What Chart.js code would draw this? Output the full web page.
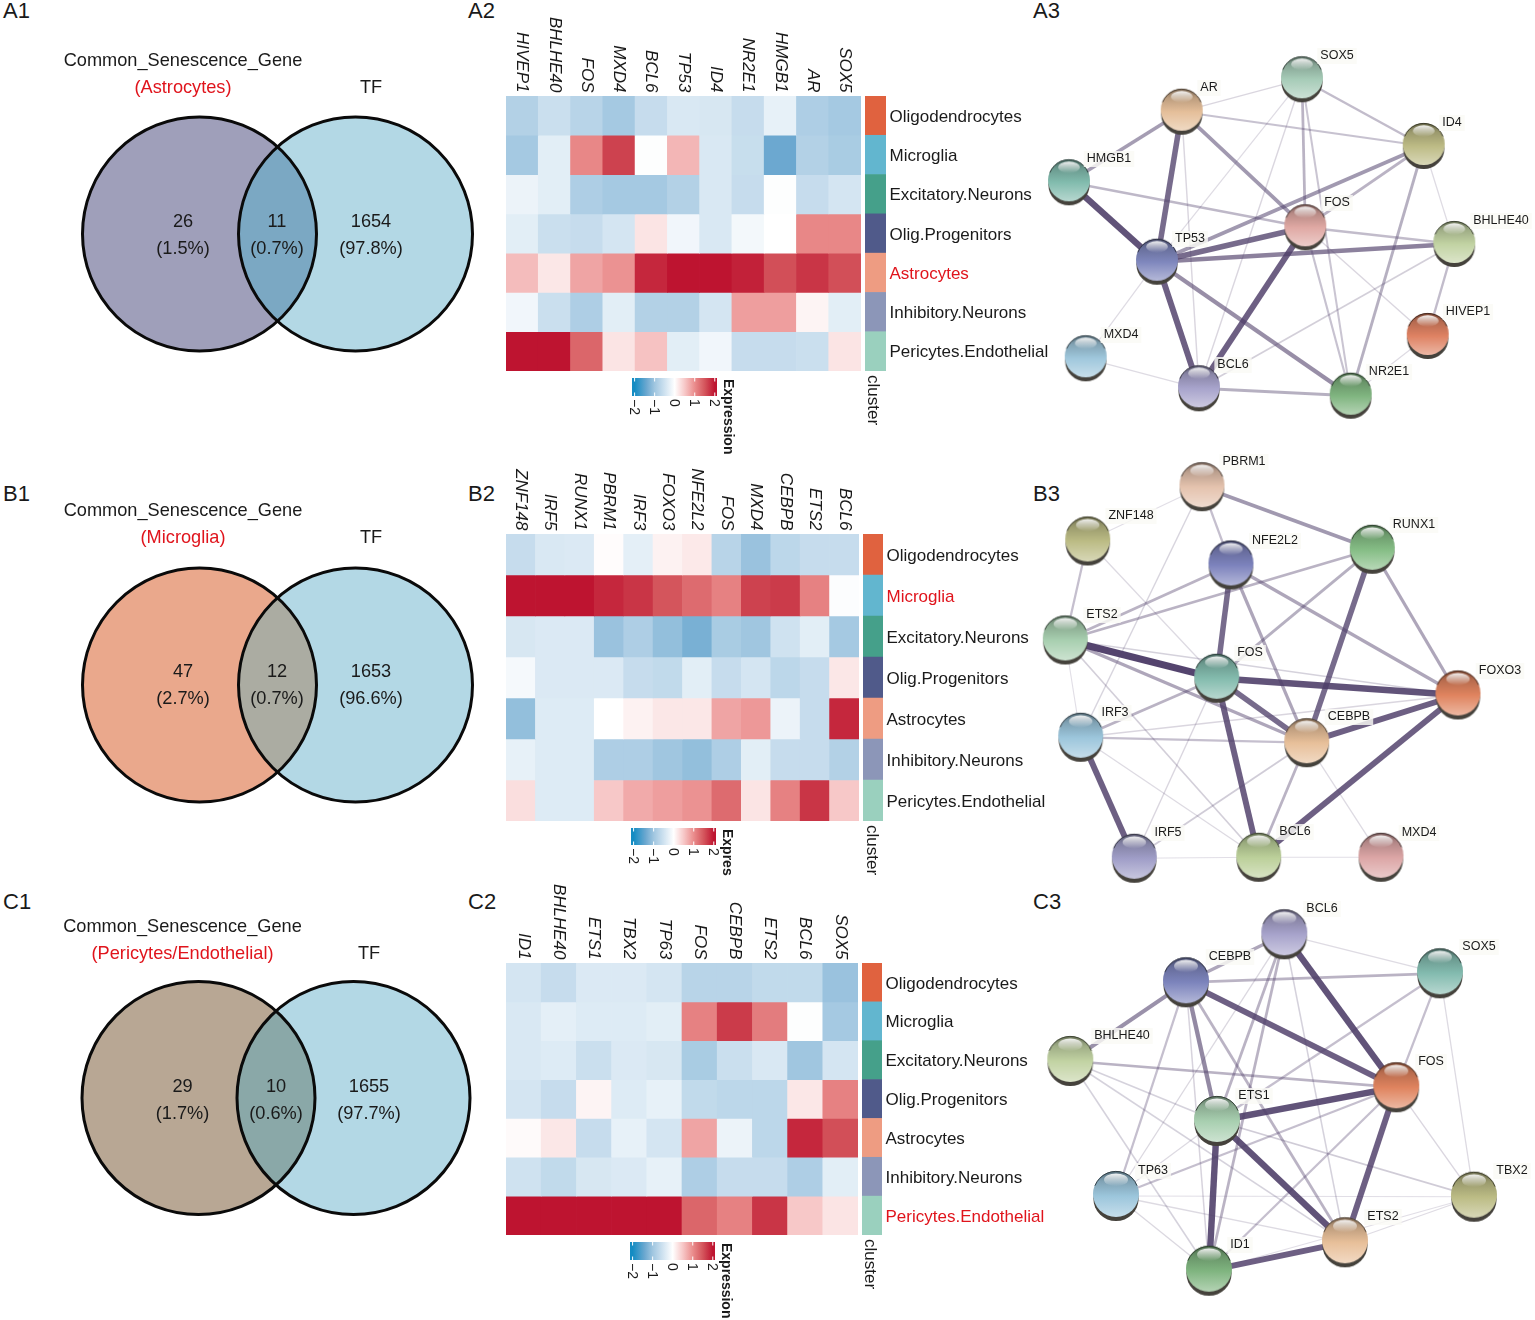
<!DOCTYPE html>
<html><head><meta charset="utf-8">
<style>html,body{margin:0;padding:0;background:#fff}body{position:relative;width:1535px;height:1320px;overflow:hidden}
canvas{position:absolute;display:block}
.pl{position:absolute;font:22px "Liberation Sans",Arial,sans-serif;color:#1a1a1a;line-height:22px}</style>
<script src="https://cdn.jsdelivr.net/npm/chart.js@4/dist/chart.umd.js"></script>
</head><body>
<script>
// ---------- DATA ----------
const rows = ["Oligodendrocytes","Microglia","Excitatory.Neurons","Olig.Progenitors","Astrocytes","Inhibitory.Neurons","Pericytes.Endothelial"];

const genesA = ["HIVEP1","BHLHE40","FOS","MXD4","BCL6","TP53","ID4","NR2E1","HMGB1","AR","SOX5"];
const exprA = [
 [-.8,-.55,-.75,-.95,-.6,-.4,-.42,-.6,-.25,-.85,-.95],
 [-.95,-.3,1.05,1.65,-.02,.65,-.4,-.58,-1.4,-.8,-.9],
 [-.2,-.3,-.85,-.95,-.95,-.8,-.4,-.6,-.02,-.6,-.45],
 [-.3,-.55,-.6,-.45,.25,-.15,-.4,-.12,0,1.05,1.05],
 [.6,.22,.8,.95,1.85,2,2,1.9,1.55,1.75,1.55],
 [-.15,-.55,-.85,-.3,-.8,-.8,-.45,.85,.85,.1,-.3],
 [2,2,1.35,.25,.55,-.3,-.15,-.6,-.6,-.55,.25]];

const genesB = ["ZNF148","IRF5","RUNX1","PBRM1","IRF3","FOXO3","NFE2L2","FOS","MXD4","CEBPB","ETS2","BCL6"];
const exprB = [
 [-.6,-.4,-.38,.03,-.28,.12,.2,-.75,-1.05,-.7,-.6,-.6],
 [2,2,2,1.85,1.75,1.5,1.3,1.1,1.65,1.7,1.1,-.03],
 [-.42,-.38,-.38,-1.05,-.85,-1.1,-1.3,-.9,-1,-.5,-.3,-.95],
 [-.1,-.38,-.38,-.38,-.6,-.65,-.3,-.6,-.45,-.7,-.6,.22],
 [-1.1,-.35,-.35,0,.12,.22,.22,.8,.9,-.2,-.6,1.85],
 [-.25,-.35,-.35,-.85,-.85,-1,-1.1,-.85,-.3,-.6,-.6,-.8],
 [.3,-.35,-.35,.5,.75,.85,.95,1.3,.25,1.1,1.75,.5]];

const genesC = ["ID1","BHLHE40","ETS1","TBX2","TP63","FOS","CEBPB","ETS2","BCL6","SOX5"];
const exprC = [
 [-.45,-.6,-.38,-.38,-.45,-.75,-.75,-.65,-.65,-1.05],
 [-.4,-.28,-.35,-.35,-.3,1.1,1.7,1.15,-.02,-.95],
 [-.4,-.35,-.55,-.38,-.42,-.9,-.55,-.4,-1,-.45],
 [-.45,-.6,.1,-.35,-.25,-.65,-.7,-.7,.22,1.1],
 [.05,.22,-.6,-.25,-.45,.8,-.2,-.7,1.85,1.55],
 [-.5,-.65,-.42,-.38,-.25,-.85,-.6,-.6,-.85,-.3],
 [2,2,2,2,2,1.35,1.1,1.75,.5,.25]];

const legendTicks = [-2,-1,0,1,2];

const vennSetNames = ["Common_Senescence_Gene","TF"];
const vennCountsA = [26,11,1654], vennPctA = ["1.5%","0.7%","97.8%"];
const vennCountsB = [47,12,1653], vennPctB = ["2.7%","0.7%","96.6%"];
const vennCountsC = [29,10,1655], vennPctC = ["1.7%","0.6%","97.7%"];

// network layouts and edge scores
const netNamesA = ["SOX5","AR","ID4","HMGB1","FOS","BHLHE40","TP53","HIVEP1","MXD4","BCL6","NR2E1"];
const netXA = [1302,1181.7,1423.7,1069,1305.3,1454.3,1157,1427.7,1085.7,1199,1350.7];
const netYA = [79.3,111.7,146,182.3,227.3,244,261.7,336,358.3,388.3,395.7];
const edgesA = [["HMGB1","TP53",.9],["AR","TP53",.75],["TP53","BCL6",.82],["TP53","FOS",.75],["FOS","BCL6",.82],
 ["TP53","BHLHE40",.6],["TP53","ID4",.45],["TP53","NR2E1",.52],["AR","FOS",.45],["AR","HMGB1",.42],["HMGB1","FOS",.25],
 ["SOX5","AR",.05],["SOX5","ID4",.22],["SOX5","FOS",.28],["SOX5","NR2E1",.16],["SOX5","TP53",.02],["SOX5","BCL6",.05],
 ["AR","ID4",.18],["AR","BCL6",.05],["ID4","FOS",.28],["ID4","NR2E1",.3],["ID4","BHLHE40",.02],["FOS","BHLHE40",.22],
 ["FOS","HIVEP1",.05],["BHLHE40","HIVEP1",.22],["BHLHE40","BCL6",.1],["FOS","NR2E1",.18],["TP53","MXD4",.02],
 ["MXD4","BCL6",.02],["BCL6","NR2E1",.3],["HIVEP1","NR2E1",.02]];

const netNamesB = ["PBRM1","ZNF148","NFE2L2","RUNX1","ETS2","FOS","FOXO3","IRF3","CEBPB","IRF5","BCL6","MXD4"];
const netXB = [1202,1087.7,1231,1372.3,1065.3,1216.7,1458,1080.7,1306.7,1134.3,1258.7,1381];
const netYB = [486.7,541,565,549.3,640,678.3,695,737.3,742.7,858.3,857.3,857.3];
const edgesB = [["ETS2","FOS",1],["FOS","FOXO3",.9],["FOS","CEBPB",.75],["FOS","BCL6",.82],["CEBPB","FOXO3",.82],["FOXO3","BCL6",.82],
 ["NFE2L2","FOS",.75],["RUNX1","CEBPB",.75],["IRF3","IRF5",.82],["PBRM1","RUNX1",.45],["NFE2L2","CEBPB",.36],["NFE2L2","FOXO3",.36],
 ["NFE2L2","ETS2",.28],["RUNX1","ETS2",.28],["RUNX1","FOS",.3],["RUNX1","FOXO3",.36],["ETS2","CEBPB",.36],["FOS","IRF3",.28],
 ["ZNF148","ETS2",.2],["PBRM1","NFE2L2",.2],["CEBPB","BCL6",.28],["IRF3","CEBPB",.2],["PBRM1","ZNF148",.0],["PBRM1","IRF3",.06],
 ["ZNF148","FOS",.03],["ETS2","IRF3",.0],["ETS2","FOXO3",.08],["ETS2","BCL6",.1],["IRF3","FOXO3",.05],["IRF3","BCL6",.03],
 ["FOS","IRF5",.05],["IRF5","BCL6",.0],["BCL6","MXD4",.0],["CEBPB","MXD4",.03],["CEBPB","IRF5",.12]];

const netNamesC = ["BCL6","SOX5","CEBPB","BHLHE40","FOS","ETS1","TP63","TBX2","ETS2","ID1"];
const netXC = [1284.3,1440,1186,1070.3,1396.3,1217,1116,1474,1345,1209];
const netYC = [934.3,973.3,982.3,1061,1087.3,1121,1196,1196.7,1242.3,1270.7];
const edgesC = [["BCL6","FOS",.9],["CEBPB","FOS",.82],["ETS1","FOS",.9],["FOS","ETS2",.82],["ETS1","ETS2",.9],["ETS1","ID1",.9],["ID1","ETS2",.82],
 ["CEBPB","ETS1",.55],["CEBPB","BCL6",.36],["CEBPB","BHLHE40",.5],["CEBPB","SOX5",.28],["BHLHE40","FOS",.28],["SOX5","ETS1",.2],["SOX5","FOS",.2],
 ["BCL6","ETS1",.28],["BCL6","ID1",.28],["CEBPB","ETS2",.28],["FOS","TP63",.2],["FOS","ID1",.2],["CEBPB","TP63",.2],["ETS1","TBX2",.12],
 ["BCL6","SOX5",.02],["BCL6","ETS2",.08],["BCL6","TP63",.04],["SOX5","TBX2",.03],["FOS","TBX2",.05],["BHLHE40","ETS1",.08],["BHLHE40","ETS2",.08],
 ["BHLHE40","ID1",.08],["CEBPB","ID1",.07],["TP63","ETS1",.03],["TP63","ID1",.04],["TP63","TBX2",.0],["TP63","ETS2",.03],["TBX2","ETS2",.02],["TBX2","ID1",.0]];

// ---------- STYLE & LAYOUT ----------
const FF = '"Liberation Sans",Arial,sans-serif', INK = "#1a1a1a", RED = "#e0141c";
const stripColors = ["#e0623f","#62b6cf","#45a08a","#505a8a","#ee9c82","#8c96b8","#9ad0be"];
const stops = [[-2,[20,140,195]],[-1.4,[108,168,208]],[-1,[160,198,224]],[-.5,[207,226,240]],[0,[255,255,255]],[.5,[247,200,200]],[1,[234,140,140]],[1.5,[212,85,92]],[2,[190,20,48]]];
function colorFor(z){
  z=Math.max(-2,Math.min(2,z));
  for(let i=1;i<stops.length;i++) if(z<=stops[i][0]){
    const [a,ca]=stops[i-1],[b,cb]=stops[i],t=(z-a)/(b-a);
    return `rgb(${ca.map((v,k)=>Math.round(v+(cb[k]-v)*t)).join(",")})`;
  }
}
function mk(left,top,w,h,config){
  const c=document.createElement("canvas");
  c.width=w;c.height=h;c.style.left=left+"px";c.style.top=top+"px";c.style.width=w+"px";c.style.height=h+"px";
  document.body.appendChild(c);
  config.options=Object.assign({responsive:false,animation:false,devicePixelRatio:1,events:[]},config.options);
  config.options.layout=Object.assign({autoPadding:false,padding:0},config.options.layout);
  config.options.plugins=Object.assign({legend:{display:false},tooltip:{enabled:false}},config.options.plugins);
  return new Chart(c,config);
}
[["A1",3,0],["A2",468,0],["A3",1033,0],["B1",3,483],["B2",468,483],["B3",1033,483],["C1",3,891],["C2",468,891],["C3",1033,891]].forEach(([t,x,y])=>{
  const d=document.createElement("div");d.className="pl";d.textContent=t;d.style.left=x+"px";d.style.top=y+"px";document.body.appendChild(d);
});

// ---------- VENN ----------
function venn(o){
  const X0=0,Y0=o.cy-195,W=468+10,H=330,R=o.r;
  const pts=[{x:o.lx,y:o.cy},{x:o.rx,y:o.cy}];
  mk(X0,Y0,W,H,{type:"bubble",
    data:{datasets:[
      {data:[{x:pts[0].x,y:pts[0].y,r:R}],backgroundColor:o.lc,borderWidth:0},
      {data:[{x:pts[1].x,y:pts[1].y,r:R}],backgroundColor:o.rc,borderWidth:0}]},
    options:{scales:{
      x:{type:"linear",display:false,min:X0,max:X0+W},
      y:{type:"linear",display:false,min:Y0,max:Y0+H,reverse:true}},
      clip:false},
    plugins:[{id:"vennOverlay",afterDatasetsDraw(ch){
      const c=ch.ctx,sx=ch.scales.x,sy=ch.scales.y;
      const p=pts.map(q=>[sx.getPixelForValue(q.x),sy.getPixelForValue(q.y)]);
      c.save();
      c.save();c.beginPath();c.arc(p[0][0],p[0][1],R,0,7);c.clip();
      c.beginPath();c.arc(p[1][0],p[1][1],R,0,7);c.fillStyle=o.ic;c.fill();c.restore();
      c.lineWidth=3;c.strokeStyle="#0a0a0a";
      p.forEach(q=>{c.beginPath();c.arc(q[0],q[1],R,0,7);c.stroke();});
      c.fillStyle=INK;c.font="18.2px "+FF;c.textAlign="center";c.textBaseline="middle";
      const T=(s,x,y,col)=>{c.fillStyle=col||INK;c.fillText(s,sx.getPixelForValue(x),sy.getPixelForValue(y));};
      T(vennSetNames[0],o.tx[0],o.titleY);
      T("("+o.name+")",o.tx[0],o.titleY+27,RED);
      T(vennSetNames[1],o.tx[2],o.titleY+27);
      o.counts.forEach((n,i)=>{T(String(n),o.tx[i],o.numY);T("("+o.pct[i]+")",o.tx[i],o.numY+27);});
      c.restore();
    }}]});
}
venn({lx:199.5,rx:355.5,cy:233.5,r:117,lc:"#9f9fba",rc:"#b3d8e5",ic:"#7ba8c3",tx:[183,277,371],titleY:60.5,numY:221,name:"Astrocytes",counts:vennCountsA,pct:vennPctA});
venn({lx:199.5,rx:355.5,cy:684.5,r:117,lc:"#eaa88c",rc:"#b3d8e5",ic:"#abaca2",tx:[183,277,371],titleY:510.5,numY:671.5,name:"Microglia",counts:vennCountsB,pct:vennPctB});
venn({lx:198.5,rx:353.5,cy:1098,r:116.5,lc:"#b8a794",rc:"#b3d8e5",ic:"#8aa8a8",tx:[182.5,276,369],titleY:926.5,numY:1086.5,name:"Pericytes/Endothelial",counts:vennCountsC,pct:vennPctC});

// ---------- HEATMAP ----------
function heat(o){
  const pad=95, W=o.right-o.left, H=o.bottom-o.top;
  mk(o.left,o.top-pad,W,H+pad,{type:"bar",
    data:{labels:o.genes,datasets:o.expr.map((row,r)=>({
      label:rows[r],data:row.map(()=>[r,r+1]),backgroundColor:row.map(colorFor),borderWidth:0}))},
    options:{layout:{padding:{top:pad}},datasets:{bar:{grouped:false,barPercentage:1,categoryPercentage:1}},
      scales:{x:{display:false,offset:true},y:{display:false,min:0,max:7,reverse:true}}},
    plugins:[{id:"geneLabels",afterDraw(ch){
      const c=ch.ctx,sx=ch.scales.x;
      c.save();c.font="italic 17px "+FF;c.fillStyle=INK;c.textAlign="right";c.textBaseline="middle";
      o.genes.forEach((g,i)=>{c.save();c.translate(sx.getPixelForValue(i),ch.chartArea.top-3.5);c.rotate(Math.PI/2);c.fillText(g,0,0);c.restore();});
      c.restore();
    }}]});
  // cluster strip with the row names as its y axis
  const sW=o.stripR-o.stripL, cW=1062-o.stripL, extra=64;
  mk(o.stripL,o.top,cW,H+extra,{type:"bar",
    data:{labels:rows,datasets:[{data:rows.map(()=>[0,1]),backgroundColor:stripColors,borderWidth:0}]},
    options:{indexAxis:"y",layout:{padding:{bottom:extra}},datasets:{bar:{barPercentage:1,categoryPercentage:1}},
      scales:{x:{display:false,min:0,max:1},
        y:{position:"right",grid:{display:false,drawTicks:false},border:{display:false},
           afterFit(s){s.width=cW-sW;s.paddingTop=0;s.paddingBottom=0;},
           ticks:{padding:3.5,labelOffset:1.4,autoSkip:false,font:{family:FF,size:17},color:c=>c.index===o.hi?RED:INK}}}},
    plugins:[{id:"clusterLabel",afterDraw(ch){
      const c=ch.ctx;c.save();c.font="17px "+FF;c.fillStyle=INK;c.textAlign="left";c.textBaseline="middle";
      c.translate(o.clusterX-o.stripL,o.clusterY-o.top);c.rotate(Math.PI/2);c.fillText("cluster",0,0);c.restore();
    }}]});
  // colour legend
  const cb=o.cb,pL=4,pT=4,bw=cb.r-cb.l,bh=cb.b-cb.t,lW=bw+pL+24,lH=bh+pT+85;
  mk(cb.l-pL,cb.t-pT,lW,lH,{type:"bar",
    data:{labels:["Expression"],datasets:[{data:[[-2.13,2.11]],borderWidth:0,
      backgroundColor(ctx){
        const ch=ctx.chart,s=ch.scales.x;if(!ch.chartArea)return "#fff";
        const g=ch.ctx.createLinearGradient(s.getPixelForValue(-2.13),0,s.getPixelForValue(2.11),0);
        for(const [z] of stops){g.addColorStop(Math.min(1,(z+2.13)/4.24),colorFor(z));}
        return g;
      }}]},
    options:{indexAxis:"y",layout:{padding:{left:pL,top:pT,right:lW-pL-bw,bottom:lH-pT-bh}},datasets:{bar:{barPercentage:1,categoryPercentage:1}},
      scales:{x:{display:false,min:-2.13,max:2.11},y:{display:false}}},
    plugins:[{id:"legendMarks",afterDraw(ch){
      const c=ch.ctx,s=ch.scales.x,a=ch.chartArea;
      c.save();c.strokeStyle="#fff";c.lineWidth=1;
      legendTicks.forEach(v=>{const x=s.getPixelForValue(v);
        c.beginPath();c.moveTo(x,a.top);c.lineTo(x,a.top+3.5);c.moveTo(x,a.bottom-3.5);c.lineTo(x,a.bottom);c.stroke();});
      c.fillStyle=INK;c.font="14px "+FF;c.textAlign="left";c.textBaseline="middle";
      legendTicks.forEach(v=>{c.save();c.translate(s.getPixelForValue(v)-1,a.bottom+3);c.rotate(Math.PI/2);c.fillText(v<0?"\u2212"+(-v):String(v),0,0);c.restore();});
      c.save();c.font="bold 14px "+FF;c.translate(a.right+11,a.top+1);c.rotate(Math.PI/2);c.fillText(o.legendTitle,0,0);c.restore();
      c.restore();
    }}]});
}
heat({genes:genesA,expr:exprA,left:506,right:861,top:96,bottom:371,stripL:865,stripR:886,hi:4,clusterX:873,clusterY:375,legendTitle:"Expression",cb:{l:632,r:717,t:378,b:396}});
heat({genes:genesB,expr:exprB,left:506,right:859,top:534,bottom:821,stripL:863,stripR:883,hi:1,clusterX:872,clusterY:825,legendTitle:"Expres",cb:{l:631,r:716,t:828,b:845}});
heat({genes:genesC,expr:exprC,left:506,right:858,top:963,bottom:1235,stripL:862,stripR:882,hi:6,clusterX:870,clusterY:1239,legendTitle:"Expression",cb:{l:630,r:715,t:1242,b:1260}});

// ---------- NETWORKS ----------
const nodeColors = {
 A:{SOX5:"#a7ccb8",AR:"#e5bf9a",ID4:"#bdbb85",HMGB1:"#82bcae",FOS:"#e0a9a4",BHLHE40:"#c2d3a3",TP53:"#7f87bd",HIVEP1:"#df8263",MXD4:"#a0c8dd",BCL6:"#a8a4cc",NR2E1:"#80b580"},
 B:{PBRM1:"#e5c3ae",ZNF148:"#bcbc85",NFE2L2:"#7d83bd",RUNX1:"#85bd85",ETS2:"#a8cfb0",FOS:"#84bcae",FOXO3:"#e0845f",IRF3:"#9cc6dc",CEBPB:"#e8c09a",IRF5:"#a09ec8",BCL6:"#bcd09a",MXD4:"#dca6a6"},
 C:{BCL6:"#a8a4cc",SOX5:"#84bcb0",CEBPB:"#7d85bd",BHLHE40:"#c2d3a3",FOS:"#e0845f",ETS1:"#a8cfb0",TP63:"#9cc6dc",TBX2:"#bcbc85",ETS2:"#e8c09a",ID1:"#80b580"}};
const labelPos = {
 A:{SOX5:[1337,56],AR:[1209,88],ID4:[1452,123],HMGB1:[1109,159],FOS:[1337,203],BHLHE40:[1501,221],TP53:[1190,239],HIVEP1:[1468,312],MXD4:[1121,335],BCL6:[1233,365],NR2E1:[1389,372]},
 B:{PBRM1:[1244,462],ZNF148:[1131,516],NFE2L2:[1275,541],RUNX1:[1414,525],ETS2:[1102,615],FOS:[1250,653],FOXO3:[1500,671],IRF3:[1115,713],CEBPB:[1349,717],IRF5:[1168,833],BCL6:[1295,832],MXD4:[1419,833]},
 C:{BCL6:[1322,909],SOX5:[1479,947],CEBPB:[1230,957],BHLHE40:[1122,1036],FOS:[1431,1062],ETS1:[1254,1096],TP63:[1153,1171],TBX2:[1512,1171],ETS2:[1383,1217],ID1:[1240,1245]}};
function shade(hex,f){
  const n=parseInt(hex.slice(1),16),v=[n>>16&255,n>>8&255,n&255];
  return v.map(x=>Math.round(f<=1?x*f:x+(255-x)*(f-1)));
}
const rgb=a=>`rgb(${a.join(",")})`;
function sphere(col,R){
  const s=document.createElement("canvas"),S=Math.ceil(2*R+12);s.width=S;s.height=S;
  const c=s.getContext("2d"),m=S/2,cy=m-2;
  c.fillStyle="#45423c";c.beginPath();c.arc(m,cy+4.5,R-.4,0,7);c.fill();
  const g=c.createLinearGradient(0,cy-R,0,cy+R);
  g.addColorStop(0,rgb(shade(col,.55)));g.addColorStop(.22,rgb(shade(col,.82)));g.addColorStop(.55,col);g.addColorStop(1,rgb(shade(col,1.42)));
  c.fillStyle=g;c.beginPath();c.arc(m,cy,R,0,7);c.fill();
  c.strokeStyle=rgb(shade(col,.32));c.lineWidth=1;c.beginPath();c.arc(m,cy,R-.4,Math.PI*1.12,Math.PI*1.88);c.stroke();
  const h=c.createLinearGradient(0,cy-R*.88,0,cy-R*.38);
  h.addColorStop(0,"rgba(255,255,255,.9)");h.addColorStop(1,"rgba(255,255,255,.05)");
  c.fillStyle=h;c.beginPath();c.ellipse(m,cy-R*.62,R*.52,R*.27,0,0,7);c.fill();
  return s;
}
function network(key,names,xs,ys,edges,R,top,h){
  const L=1030,W=505,idx=n=>names.indexOf(n);
  const edgeSets=edges.map(([a,b,s])=>({
    data:[{x:xs[idx(a)],y:ys[idx(a)]},{x:xs[idx(b)],y:ys[idx(b)]}],showLine:true,pointRadius:0,
    borderColor:`rgba(78,62,105,${(.17+.8*s).toFixed(3)})`,borderWidth:1.1+5.9*s,borderCapStyle:"butt"}));
  const nodes={data:names.map((n,i)=>({x:xs[i],y:ys[i]})),showLine:false,pointRadius:R,
    pointStyle:names.map(n=>sphere(nodeColors[key][n],R))};
  mk(L,top,W,h,{type:"scatter",data:{datasets:[nodes,...edgeSets]},
    options:{clip:false,scales:{
      x:{type:"linear",display:false,min:L,max:L+W},
      y:{type:"linear",display:false,min:top,max:top+h,reverse:true}}},
    plugins:[{id:"nodeLabels",afterDatasetsDraw(ch){
      const c=ch.ctx,sx=ch.scales.x,sy=ch.scales.y;
      c.save();c.font="12.5px "+FF;c.textAlign="center";c.textBaseline="middle";
      names.forEach(n=>{const [x,y]=labelPos[key][n],px=sx.getPixelForValue(x),py=sy.getPixelForValue(y),w=c.measureText(n).width;
        c.fillStyle="rgba(250,250,245,.82)";c.fillRect(px-w/2-3,py-8,w+6,16);
        c.fillStyle=INK;c.fillText(n,px,py);});
      c.restore();
    }}]});
}
network("A",netNamesA,netXA,netYA,edgesA,21,30,400);
network("B",netNamesB,netXB,netYB,edgesB,22.5,445,445);
network("C",netNamesC,netXC,netYC,edgesC,23,893,425);
</script>
</body></html>
